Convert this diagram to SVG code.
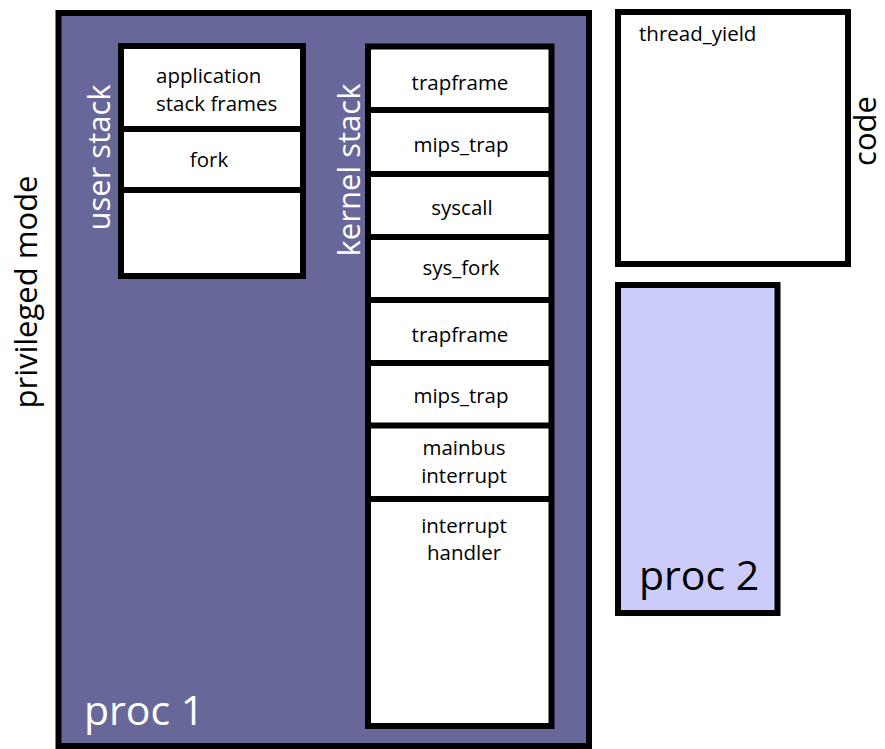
<svg xmlns="http://www.w3.org/2000/svg" width="885" height="749" viewBox="0 0 885 749">
<style>
.box{stroke:#000;stroke-width:6;}
.div{stroke:#000;stroke-width:6;}
.t{font-family:"Open Sans","Liberation Sans",sans-serif;font-size:20.5px;fill:#000;}
.c{text-anchor:middle;}
.big{font-family:"Open Sans","Liberation Sans",sans-serif;font-size:31px;}
.proc{font-family:"Open Sans","Liberation Sans",sans-serif;font-size:41px;}
</style>
<rect width="885" height="749" fill="#fff"/>
<g id="privileged-mode">
<text class="big" fill="#000" text-anchor="middle" transform="translate(37,292) rotate(-90)">privileged mode</text>
</g>
<g id="proc1">
<rect class="box" x="58.5" y="13" width="530.5" height="733" fill="#676899"/>
<text class="proc" fill="#fff" x="84" y="725">proc 1</text>
</g>
<g id="user-stack">
<text class="big" fill="#fff" text-anchor="middle" transform="translate(110,157.5) rotate(-90)">user stack</text>
<rect class="box" x="121" y="46" width="182" height="230" fill="#fff"/>
<line class="div" x1="121" y1="129" x2="303" y2="129"/>
<line class="div" x1="121" y1="190" x2="303" y2="190"/>
<text class="t" x="156" y="83">application</text>
<text class="t" x="156" y="111">stack frames</text>
<text class="t c" x="209" y="167">fork</text>
</g>
<g id="kernel-stack">
<text class="big" fill="#fff" text-anchor="middle" transform="translate(360,170) rotate(-90)">kernel stack</text>
<rect class="box" x="368" y="46.5" width="183.5" height="679.5" fill="#fff"/>
<line class="div" x1="368" y1="110" x2="551.5" y2="110"/>
<line class="div" x1="368" y1="174" x2="551.5" y2="174"/>
<line class="div" x1="368" y1="237" x2="551.5" y2="237"/>
<line class="div" x1="368" y1="300" x2="551.5" y2="300"/>
<line class="div" x1="368" y1="363" x2="551.5" y2="363"/>
<line class="div" x1="368" y1="425.5" x2="551.5" y2="425.5"/>
<line class="div" x1="368" y1="499" x2="551.5" y2="499"/>
<text class="t c" x="460" y="90">trapframe</text>
<text class="t c" x="461" y="152">mips_trap</text>
<text class="t c" x="462" y="215">syscall</text>
<text class="t c" x="461" y="275">sys_fork</text>
<text class="t c" x="460" y="342">trapframe</text>
<text class="t c" x="461" y="403">mips_trap</text>
<text class="t c" x="464" y="455">mainbus</text>
<text class="t c" x="464" y="483">interrupt</text>
<text class="t c" x="464" y="533">interrupt</text>
<text class="t c" x="464" y="560">handler</text>
</g>
<g id="code">
<rect class="box" x="618" y="12" width="230" height="252" fill="#fff"/>
<text class="t" x="639" y="41">thread_yield</text>
<text class="big" fill="#000" text-anchor="middle" transform="translate(876,131) rotate(-90)">code</text>
</g>
<g id="proc2">
<rect class="box" x="618" y="285" width="159.5" height="328" fill="#ccccfa"/>
<text class="proc" fill="#000" x="639" y="590">proc 2</text>
</g>
<g id="connectors"/>
</svg>
